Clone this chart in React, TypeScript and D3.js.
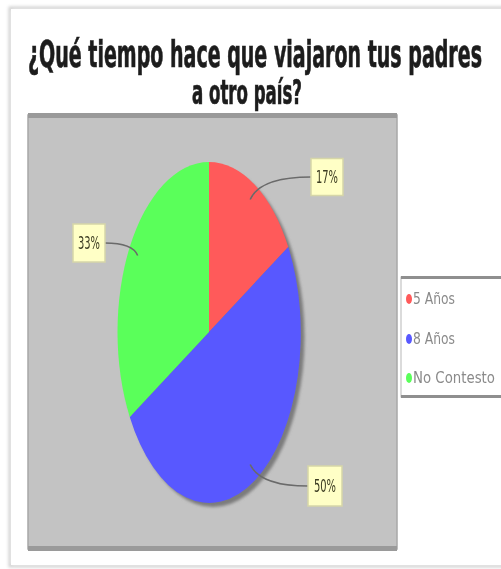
import React from "react";
import * as d3 from "d3";

const categories = ["5 Años", "8 Años", "No Contesto"];
const values = [1, 3, 2];
const percentLabels = ["17%", "50%", "33%"];
const colors = ["#ff5a5a", "#5858ff", "#5aff5a"];
const titleLines = ["¿Qué tiempo hace que viajaron tus padres", "a otro país?"];

const W = 501;
const H = 569;

export default function App() {
  const cx = 209;
  const cy = 332;
  const rx = 91.5;
  const ry = 170;

  const pie = d3.pie<number>().sort(null).value((d) => d)(values);
  const arc = d3.arc<d3.PieArcDatum<number>>().innerRadius(0).outerRadius(1);

  const boxes = [
    { x: 327, y: 177, w: 32, h: 37 },
    { x: 325, y: 486, w: 34, h: 40 },
    { x: 89, y: 243, w: 32, h: 38 },
  ];

  const condensed = "'Liberation Sans Narrow', 'DejaVu Sans Condensed', 'Roboto Condensed', sans-serif";

  return (
    <div style={{ position: "absolute", left: 0, top: 0, width: W, height: H, overflow: "hidden", background: "#fff" }}>
      <svg width={W} height={H} style={{ display: "block" }}>
        <defs>
          <filter id="blur1" x="-10%" y="-10%" width="120%" height="120%">
            <feGaussianBlur stdDeviation="1.5" />
          </filter>
          <filter id="soft" x="-5%" y="-5%" width="110%" height="110%">
            <feGaussianBlur stdDeviation="0.6" />
          </filter>
        </defs>
        <rect x={0} y={0} width={W} height={H} fill="#ffffff" />
        {/* card shadow */}
        <rect x={10} y={8} width={500} height={558} fill="none" stroke="#d0d0d0" strokeWidth={3} filter="url(#blur1)" />
        <rect x={11} y={9} width={500} height={556} fill="#ffffff" />

        {/* title */}
        <g filter="url(#soft)">
          <text
            x={28}
            y={67}
            fontFamily={condensed}
            fontWeight="bold"
            fontSize={38}
            fill="#1c1c1c"
            stroke="#1c1c1c"
            strokeWidth={0.7}
            textLength={454}
            lengthAdjust="spacingAndGlyphs"
          >
            {titleLines[0]}
          </text>
          <text
            x={192}
            y={104}
            fontFamily={condensed}
            fontWeight="bold"
            fontSize={33}
            fill="#1c1c1c"
            stroke="#1c1c1c"
            strokeWidth={0.7}
            textLength={110}
            lengthAdjust="spacingAndGlyphs"
          >
            {titleLines[1]}
          </text>
        </g>

        {/* plot area */}
        <rect x={28} y={115} width={369} height={434} fill="#c3c3c3" stroke="#a8a8a8" strokeWidth={1.5} />
        <rect x={28} y={113} width={369} height={5} fill="#9a9a9a" filter="url(#soft)" />
        <rect x={28} y={546} width={369} height={5} fill="#9a9a9a" filter="url(#soft)" />

        {/* pie shadow */}
        <ellipse cx={cx + 4} cy={cy + 5} rx={rx} ry={ry} fill="#7c7c7c" filter="url(#blur1)" />

        {/* pie */}
        <g filter="url(#soft)">
          <g transform={`translate(${cx},${cy}) scale(${rx},${ry})`}>
            {pie.map((d, i) => (
              <path key={i} d={arc(d) || ""} fill={colors[i]} />
            ))}
          </g>
        </g>

        {/* leader lines */}
        {pie.map((d, i) => {
          const mid = (d.startAngle + d.endAngle) / 2;
          const ax = cx + 0.9 * rx * Math.sin(mid);
          const ay = cy - 0.9 * ry * Math.cos(mid);
          const b = boxes[i];
          const right = b.x > cx;
          const ex = right ? b.x - b.w / 2 : b.x + b.w / 2;
          const ey = b.y;
          const path = d3.path();
          path.moveTo(ax, ay);
          path.quadraticCurveTo(ax + (right ? 10 : -5), ey, ex, ey);
          return (
            <path key={i} d={path.toString()} fill="none" stroke="#6a6a6a" strokeWidth={1.6} filter="url(#soft)" />
          );
        })}

        {/* label boxes */}
        {boxes.map((b, i) => (
          <g key={i} filter="url(#soft)">
            <rect x={b.x - b.w / 2} y={b.y - b.h / 2} width={b.w} height={b.h} fill="#ffffc6" stroke="#d6d6a8" strokeWidth={1.5} />
            <text
              x={b.x}
              y={b.y + 6}
              textAnchor="middle"
              fontFamily={condensed}
              fontSize={17}
              fill="#3a3a20"
              textLength={22}
              lengthAdjust="spacingAndGlyphs"
            >
              {percentLabels[i]}
            </text>
          </g>
        ))}

        {/* legend */}
        <g>
          <rect x={401} y={277} width={110} height={120} fill="#ffffff" stroke="#b8b8b8" strokeWidth={1} />
          <rect x={401} y={276} width={110} height={3} fill="#8f8f8f" filter="url(#soft)" />
          <rect x={401} y={395} width={110} height={3} fill="#8f8f8f" filter="url(#soft)" />
          {categories.map((c, i) => {
            const y = [299, 339, 378][i];
            return (
              <g key={c} filter="url(#soft)">
                <ellipse cx={409} cy={y} rx={3} ry={5} fill={colors[i]} />
                <text
                  x={413}
                  y={y + 5}
                  fontFamily={condensed}
                  fontSize={15}
                  fill="#8a8a8a"
                  textLength={[42, 42, 82][i]}
                  lengthAdjust="spacingAndGlyphs"
                >
                  {c}
                </text>
              </g>
            );
          })}
        </g>
      </svg>
    </div>
  );
}
